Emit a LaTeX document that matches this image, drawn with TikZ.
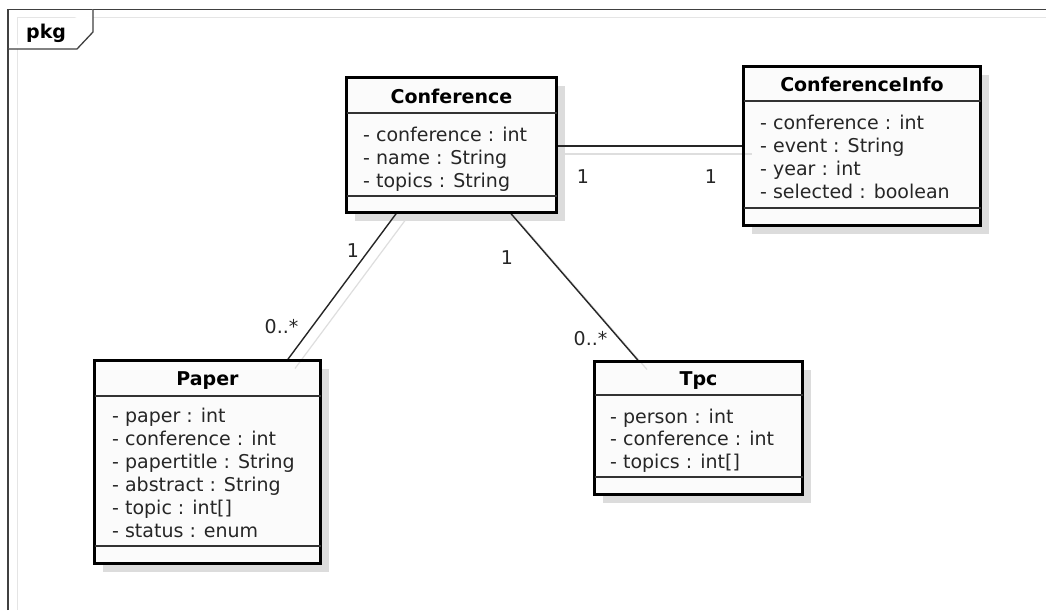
\documentclass[tikz,border=0pt]{standalone}
\usepackage{fontspec}
\setmainfont{DejaVu Sans}
\usetikzlibrary{calc,shadows}
\definecolor{boxfill}{HTML}{FBFBFB}
\definecolor{shadowgray}{HTML}{DCDCDC}
\definecolor{txt}{HTML}{262626}
\tikzset{
  classbox/.style={draw=black, line width=3pt, fill=boxfill, anchor=north west,
    inner sep=0pt, outer sep=0pt,
    general shadow={shadow xshift=8pt, shadow yshift=-8pt, fill=shadowgray}},
  sepline/.style={line width=1.4pt, draw=black!80},
  assoc/.style={line width=1.4pt, draw=black!85},
  assocshadow/.style={line width=1.2pt, draw=black!13},
  classtitle/.style={font=\fontsize{19}{23}\selectfont\bfseries, text=black, anchor=base, inner sep=0pt},
  attr/.style={font=\fontsize{19}{23}\selectfont, text=txt, anchor=base west, inner sep=0pt},
  mult/.style={font=\fontsize{19}{23}\selectfont, text=txt, anchor=base, inner sep=0pt},
  tabtext/.style={font=\fontsize{19}{23}\selectfont\bfseries, text=black, anchor=base west, inner sep=0pt},
  frameline/.style={line width=1.3pt, draw=black!75},
  frameshadow/.style={line width=1pt, draw=black!10}
}
\begin{document}
\begin{tikzpicture}[x=1pt,y=-1pt]
\useasboundingbox (0,0) rectangle (1046,610);
\fill[white] (0,0) rectangle (1046,610);
% package frame
\draw[frameshadow] (17,610) -- (17,18) -- (1046,18);
\draw[frameline] (8,610) -- (8,9.5) -- (1046,9.5);
\draw[frameline, fill=white] (8,49) -- (77,49) -- (93,32) -- (93,9.5);
\node[tabtext] (pkg) at (26,38) {pkg};

% classes
\node[classbox, minimum width=210pt, minimum height=135pt] (conf) at (346.5,77.5) {};
\node[classbox, minimum width=237pt, minimum height=159pt] (info) at (743.5,66.5) {};
\node[classbox, minimum width=226pt, minimum height=203pt] (paper) at (94.5,360.5) {};
\node[classbox, minimum width=208pt, minimum height=133pt] (tpc) at (594.5,361.5) {};

% association shadows (drawn over the boxes, as in the reference)
\draw[assocshadow] ($(conf.north east)+(8,76.5)$) -- ($(info.north west)+(8,87.5)$);
\draw[assocshadow] ($(conf.south west)+(58.5,8)$) -- ($(paper.north west)+(200.5,8)$);
\draw[assocshadow] ($(conf.south west)+(171.5,8)$) -- ($(tpc.north west)+(52.5,8)$);

% association lines
\draw[assoc] ($(conf.north east)+(0,68.5)$) -- ($(info.north west)+(0,79.5)$);
\draw[assoc] ($(conf.south west)+(50.5,0)$) -- ($(paper.north west)+(192.5,0)$);
\draw[assoc] ($(conf.south west)+(163.5,0)$) -- ($(tpc.north west)+(44.5,0)$);

% redraw box borders over line ends
\draw[line width=3pt] (conf.north west) rectangle (conf.south east);
\draw[line width=3pt] (info.north west) rectangle (info.south east);
\draw[line width=3pt] (paper.north west) rectangle (paper.south east);
\draw[line width=3pt] (tpc.north west) rectangle (tpc.south east);

% compartment separators
\draw[sepline] (conf.west |- 0,113) -- (conf.east |- 0,113);
\draw[sepline] (conf.west |- 0,196) -- (conf.east |- 0,196);
\draw[sepline] (info.west |- 0,101) -- (info.east |- 0,101);
\draw[sepline] (info.west |- 0,208) -- (info.east |- 0,208);
\draw[sepline] (paper.west |- 0,396) -- (paper.east |- 0,396);
\draw[sepline] (paper.west |- 0,546) -- (paper.east |- 0,546);
\draw[sepline] (tpc.west |- 0,395) -- (tpc.east |- 0,395);
\draw[sepline] (tpc.west |- 0,477) -- (tpc.east |- 0,477);

% Conference
\node[classtitle] (conft) at (451.5,103) {Conference};
\node[attr] (confa1) at (363,141) {- conference : int};
\node[attr] (confa2) at (363,164) {- name : String};
\node[attr] (confa3) at (363,187) {- topics : String};

% ConferenceInfo
\node[classtitle] (infot) at (862,91) {ConferenceInfo};
\node[attr] (infoa1) at (760,129) {- conference : int};
\node[attr] (infoa2) at (760,152) {- event : String};
\node[attr] (infoa3) at (760,175) {- year : int};
\node[attr] (infoa4) at (760,198) {- selected : boolean};

% Paper
\node[classtitle] (papert) at (207.5,385) {Paper};
\node[attr] (papera1) at (112,422) {- paper : int};
\node[attr] (papera2) at (112,445) {- conference : int};
\node[attr] (papera3) at (112,468) {- papertitle : String};
\node[attr] (papera4) at (112,491) {- abstract : String};
\node[attr] (papera5) at (112,514) {- topic : int[]};
\node[attr] (papera6) at (112,537) {- status : enum};

% Tpc
\node[classtitle] (tpct) at (698.5,385) {Tpc};
\node[attr] (tpca1) at (610,423) {- person : int};
\node[attr] (tpca2) at (610,445.5) {- conference : int};
\node[attr] (tpca3) at (610,468) {- topics : int[]};

% multiplicities
\node[mult] (m1) at (583,183) {1};
\node[mult] (m2) at (711,183) {1};
\node[mult] (m3) at (353,257) {1};
\node[mult] (m4) at (281.5,333) {0..*};
\node[mult] (m5) at (507,264) {1};
\node[mult] (m6) at (590.5,345) {0..*};
\end{tikzpicture}
\end{document}
